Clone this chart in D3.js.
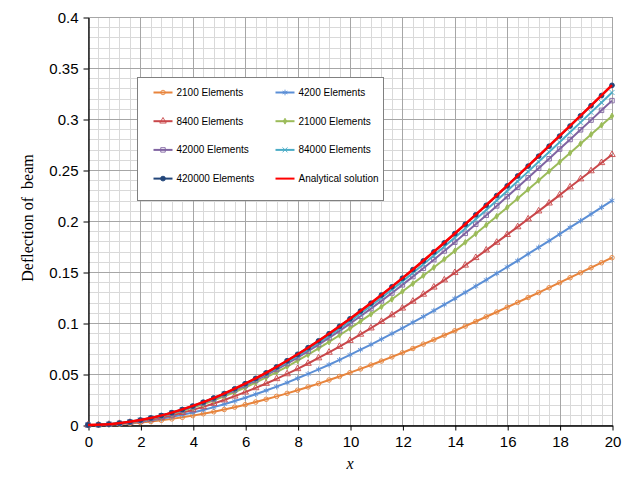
<!DOCTYPE html>
<html>
<head>
<meta charset="utf-8">
<script src="https://cdn.jsdelivr.net/npm/d3@7"></script>
<style>
  body { margin: 0; background: #fff; }
  svg { display: block; }
</style>
</head>
<body>
<div id="chart"></div>
<script>
// x positions of the markers (every 0.4) and of the analytical curve (every 1)
const xMarks = [0, 0.4, 0.8, 1.2, 1.6, 2, 2.4, 2.8, 3.2, 3.6, 4, 4.4, 4.8, 5.2, 5.6, 6, 6.4, 6.8, 7.2, 7.6, 8,
  8.4, 8.8, 9.2, 9.6, 10, 10.4, 10.8, 11.2, 11.6, 12, 12.4, 12.8, 13.2, 13.6, 14, 14.4, 14.8, 15.2, 15.6, 16,
  16.4, 16.8, 17.2, 17.6, 18, 18.4, 18.8, 19.2, 19.6, 20]
const xExact = [0, 1, 2, 3, 4, 5, 6, 7, 8, 9, 10, 11, 12, 13, 14, 15, 16, 17, 18, 19, 20]

const el2100 = [0, 0.0001, 0.0004, 0.0009, 0.0015, 0.0024, 0.0034, 0.0046, 0.0060, 0.0075, 0.0092,
  0.0110, 0.0130, 0.0152, 0.0175, 0.0199, 0.0225, 0.0252, 0.0281, 0.0310, 0.0341,
  0.0373, 0.0406, 0.0441, 0.0476, 0.0513, 0.0550, 0.0588, 0.0627, 0.0668, 0.0708,
  0.0750, 0.0793, 0.0836, 0.0880, 0.0924, 0.0969, 0.1015, 0.1061, 0.1108, 0.1155,
  0.1202, 0.1250, 0.1298, 0.1346, 0.1395, 0.1444, 0.1493, 0.1542, 0.1591, 0.1640]
const el4200 = [0, 0.0001, 0.0005, 0.0012, 0.0021, 0.0032, 0.0046, 0.0062, 0.0080, 0.0101, 0.0123,
  0.0148, 0.0175, 0.0204, 0.0235, 0.0267, 0.0302, 0.0338, 0.0376, 0.0416, 0.0458,
  0.0501, 0.0545, 0.0591, 0.0639, 0.0688, 0.0738, 0.0789, 0.0842, 0.0896, 0.0950,
  0.1006, 0.1063, 0.1121, 0.1180, 0.1240, 0.1300, 0.1361, 0.1423, 0.1486, 0.1549,
  0.1612, 0.1677, 0.1741, 0.1806, 0.1871, 0.1937, 0.2002, 0.2068, 0.2134, 0.2200]
const el8400 = [0, 0.0002, 0.0006, 0.0014, 0.0025, 0.0038, 0.0055, 0.0074, 0.0096, 0.0121, 0.0148,
  0.0178, 0.0211, 0.0245, 0.0283, 0.0322, 0.0364, 0.0407, 0.0453, 0.0501, 0.0551,
  0.0603, 0.0657, 0.0712, 0.0769, 0.0828, 0.0889, 0.0950, 0.1014, 0.1079, 0.1145,
  0.1212, 0.1281, 0.1351, 0.1421, 0.1493, 0.1566, 0.1640, 0.1714, 0.1790, 0.1866,
  0.1942, 0.2019, 0.2097, 0.2175, 0.2254, 0.2333, 0.2412, 0.2491, 0.2571, 0.2650]
const el21000 = [0, 0.0002, 0.0007, 0.0016, 0.0028, 0.0044, 0.0063, 0.0085, 0.0110, 0.0138, 0.0170,
  0.0204, 0.0241, 0.0281, 0.0323, 0.0368, 0.0416, 0.0466, 0.0518, 0.0573, 0.0630,
  0.0689, 0.0751, 0.0814, 0.0880, 0.0947, 0.1016, 0.1087, 0.1159, 0.1233, 0.1309,
  0.1386, 0.1464, 0.1544, 0.1625, 0.1707, 0.1791, 0.1875, 0.1960, 0.2046, 0.2133,
  0.2221, 0.2309, 0.2398, 0.2487, 0.2577, 0.2667, 0.2758, 0.2848, 0.2939, 0.3030]
const el42000 = [0, 0.0002, 0.0008, 0.0017, 0.0030, 0.0046, 0.0066, 0.0089, 0.0116, 0.0145, 0.0178,
  0.0214, 0.0253, 0.0295, 0.0339, 0.0386, 0.0436, 0.0489, 0.0544, 0.0602, 0.0661,
  0.0724, 0.0788, 0.0855, 0.0923, 0.0994, 0.1066, 0.1141, 0.1217, 0.1294, 0.1374,
  0.1455, 0.1537, 0.1621, 0.1706, 0.1792, 0.1879, 0.1968, 0.2057, 0.2148, 0.2239,
  0.2331, 0.2423, 0.2517, 0.2610, 0.2705, 0.2799, 0.2894, 0.2989, 0.3085, 0.3180]
const el84000 = [0, 0.0002, 0.0008, 0.0017, 0.0030, 0.0047, 0.0068, 0.0091, 0.0119, 0.0149, 0.0183,
  0.0219, 0.0259, 0.0302, 0.0348, 0.0396, 0.0447, 0.0501, 0.0558, 0.0617, 0.0678,
  0.0742, 0.0808, 0.0876, 0.0946, 0.1019, 0.1093, 0.1169, 0.1247, 0.1327, 0.1408,
  0.1491, 0.1576, 0.1661, 0.1749, 0.1837, 0.1927, 0.2017, 0.2109, 0.2202, 0.2295,
  0.2389, 0.2484, 0.2580, 0.2676, 0.2773, 0.2870, 0.2967, 0.3065, 0.3162, 0.3260]
const el420000 = [0, 0.0002, 0.0008, 0.0018, 0.0031, 0.0048, 0.0069, 0.0093, 0.0121, 0.0152, 0.0186,
  0.0224, 0.0265, 0.0308, 0.0355, 0.0405, 0.0457, 0.0512, 0.0570, 0.0630, 0.0693,
  0.0758, 0.0825, 0.0895, 0.0967, 0.1041, 0.1117, 0.1194, 0.1274, 0.1355, 0.1439,
  0.1523, 0.1609, 0.1697, 0.1786, 0.1876, 0.1968, 0.2061, 0.2154, 0.2249, 0.2344,
  0.2441, 0.2538, 0.2635, 0.2733, 0.2832, 0.2931, 0.3031, 0.3130, 0.3230, 0.3330]
const analytical = [0, 0.0012, 0.0048, 0.0107, 0.0187, 0.0286, 0.0405, 0.0541, 0.0693, 0.0861, 0.1042,
  0.1235, 0.1440, 0.1655, 0.1878, 0.2109, 0.2347, 0.2589, 0.2835, 0.3083, 0.3333]

const seriesNames = ['2100 Elements', '4200 Elements', '8400 Elements', '21000 Elements',
  '42000 Elements', '84000 Elements', '420000 Elements', 'Analytical solution']
const xTicks = [0, 2, 4, 6, 8, 10, 12, 14, 16, 18, 20]
const yTicks = [0, 0.05, 0.1, 0.15, 0.2, 0.25, 0.3, 0.35, 0.4]

const W = 630
const H = 482
const plot = { left: 88, right: 612, top: 17, bottom: 425 }

const series = [
  { name: seriesNames[0], xs: xMarks, ys: el2100, color: '#e8843c', symbol: d3.symbolCircle, size: 16, open: true },
  { name: seriesNames[1], xs: xMarks, ys: el4200, color: '#5b8fd6', symbol: d3.symbolAsterisk, size: 22, open: true },
  { name: seriesNames[2], xs: xMarks, ys: el8400, color: '#c9474a', symbol: d3.symbolTriangle, size: 18, open: true },
  { name: seriesNames[3], xs: xMarks, ys: el21000, color: '#9bbb59', symbol: d3.symbolDiamond, size: 10, open: false },
  { name: seriesNames[4], xs: xMarks, ys: el42000, color: '#8064a2', symbol: d3.symbolSquare, size: 20, open: true },
  { name: seriesNames[5], xs: xMarks, ys: el84000, color: '#4bacc6', symbol: d3.symbolTimes, size: 18, open: true },
  { name: seriesNames[6], xs: xMarks, ys: el420000, color: '#23467a', symbol: d3.symbolCircle, size: 18, open: false },
  { name: seriesNames[7], xs: xExact, ys: analytical, color: '#ff0000', symbol: null, width: 2.5 }
]

const svg = d3.select('#chart').append('svg')
  .attr('width', W)
  .attr('height', H)

const x = d3.scaleLinear([0, 20], [plot.left, plot.right])
const y = d3.scaleLinear([0, 0.4], [plot.bottom, plot.top])

// grid: minor lines first, major lines over them
const grid = svg.append('g').attr('class', 'grid')
const minorX = d3.range(0, 20.001, 0.4)
const minorY = d3.range(0, 0.4001, 0.01)

grid.selectAll('line.vminor').data(minorX).enter().append('line')
  .attr('x1', d => Math.round(x(d)) + 0.5).attr('x2', d => Math.round(x(d)) + 0.5)
  .attr('y1', plot.top).attr('y2', plot.bottom)
  .attr('stroke', '#d9d9d9').attr('stroke-width', 1)
grid.selectAll('line.hminor').data(minorY).enter().append('line')
  .attr('y1', d => Math.round(y(d)) + 0.5).attr('y2', d => Math.round(y(d)) + 0.5)
  .attr('x1', plot.left).attr('x2', plot.right)
  .attr('stroke', '#d9d9d9').attr('stroke-width', 1)
grid.selectAll('line.vmajor').data(xTicks).enter().append('line')
  .attr('x1', d => Math.round(x(d)) + 0.5).attr('x2', d => Math.round(x(d)) + 0.5)
  .attr('y1', plot.top).attr('y2', plot.bottom)
  .attr('stroke', '#a6a6a6').attr('stroke-width', 1)
grid.selectAll('line.hmajor').data(yTicks).enter().append('line')
  .attr('y1', d => Math.round(y(d)) + 0.5).attr('y2', d => Math.round(y(d)) + 0.5)
  .attr('x1', plot.left).attr('x2', plot.right)
  .attr('stroke', '#a6a6a6').attr('stroke-width', 1)

// axes
const fmt = d => d === 0 ? '0' : String(+d.toFixed(2))

const yAxis = svg.append('g')
  .attr('transform', `translate(${plot.left + 0.5}, 0.5)`)
  .call(d3.axisLeft(y).tickValues(yTicks).tickFormat(fmt).tickSize(5).tickPadding(5).tickSizeOuter(0))
yAxis.select('.domain').attr('stroke', '#000').attr('stroke-width', 1.3)
yAxis.selectAll('.tick line').attr('stroke', '#000')
yAxis.selectAll('.tick text')
  .style('font-family', 'Liberation Sans, Arial, sans-serif')
  .style('font-size', '15px')
  .attr('fill', '#000')

const xAxis = svg.append('g')
  .attr('transform', `translate(0.5, ${plot.bottom + 0.5})`)
  .call(d3.axisBottom(x).tickValues(xTicks).tickFormat(fmt).tickSize(5).tickPadding(6).tickSizeOuter(0))
xAxis.select('.domain').attr('stroke', '#000').attr('stroke-width', 1.3)
xAxis.selectAll('.tick line').attr('stroke', '#000')
xAxis.selectAll('.tick text')
  .style('font-family', 'Liberation Sans, Arial, sans-serif')
  .style('font-size', '15px')
  .attr('fill', '#000')

// axis titles
svg.append('text')
  .attr('x', (plot.left + plot.right) / 2)
  .attr('y', 469)
  .attr('text-anchor', 'middle')
  .style('font-family', 'Liberation Serif, Times New Roman, serif')
  .style('font-style', 'italic')
  .style('font-size', '16px')
  .text('x')

svg.append('text')
  .attr('transform', 'translate(33, 218) rotate(-90)')
  .attr('text-anchor', 'middle')
  .style('font-family', 'Liberation Serif, Times New Roman, serif')
  .style('font-size', '16px')
  .style('white-space', 'pre')
  .text('Deflection of  beam')

// series
const line = d3.line()
  .x(d => x(d[0]))
  .y(d => y(d[1]))

function drawMarker (sel, s) {
  sel.attr('d', d3.symbol(s.symbol, s.size))
    .attr('fill', s.open ? 'none' : s.color)
    .attr('stroke', s.color)
    .attr('stroke-width', 0.9)
}

const marks = svg.append('g').attr('class', 'series')
series.forEach(s => {
  const pts = s.xs.map((v, i) => [v, s.ys[i]])
  const g = marks.append('g')
  g.append('path')
    .datum(pts)
    .attr('fill', 'none')
    .attr('stroke', s.color)
    .attr('stroke-width', s.width || 2)
    .attr('d', s.symbol ? line : line.curve(d3.curveMonotoneX))
  line.curve(d3.curveLinear)
  if (s.symbol) {
    g.selectAll('path.m').data(pts).enter().append('path')
      .attr('class', 'm')
      .attr('transform', d => `translate(${x(d[0])}, ${y(d[1])})`)
      .call(drawMarker, s)
  }
})

// legend
const legend = svg.append('g').attr('transform', 'translate(137.5, 77.5)')
legend.append('rect')
  .attr('width', 246).attr('height', 123)
  .attr('fill', '#fff').attr('stroke', '#808080').attr('stroke-width', 1)

series.forEach((s, i) => {
  const col = i % 2
  const row = Math.floor(i / 2)
  const item = legend.append('g')
    .attr('transform', `translate(${16 + col * 122}, ${15 + row * 28.7})`)
  item.append('line')
    .attr('x1', 0).attr('x2', 19)
    .attr('stroke', s.color).attr('stroke-width', 2)
  if (s.symbol) {
    item.append('path')
      .attr('transform', 'translate(9.5, 0)')
      .call(drawMarker, s)
  }
  item.append('text')
    .attr('x', 23).attr('y', 3.5)
    .style('font-family', 'Liberation Sans, Arial, sans-serif')
    .style('font-size', '10px')
    .attr('fill', '#000')
    .text(s.name)
})
</script>
</body>
</html>
